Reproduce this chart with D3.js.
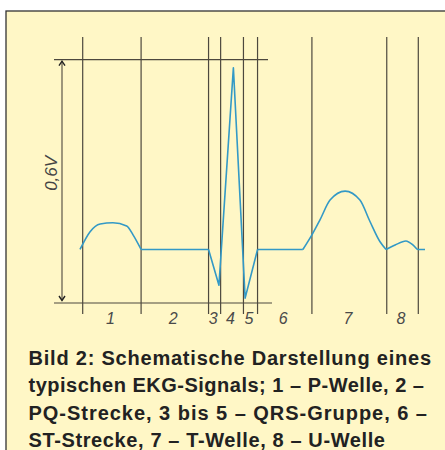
<!DOCTYPE html>
<html><head><meta charset="utf-8">
<script src="https://cdn.jsdelivr.net/npm/d3@7"></script>
<style>
html,body{margin:0;padding:0;background:#fff;}
svg{display:block;}
</style></head>
<body>
<svg id="c" width="445" height="450"></svg>
<script>
// ---- data ----
// segment boundaries (time units)
const boundaries = [0, 17.4, 37.5, 41.1, 47.9, 52.1, 68.3, 90.6, 100];
const segmentLabels = ["1","2","3","4","5","6","7","8"];
// amplitude reference (V)
const refLevels = [0, 0.6];
const ampLabel = "0,6V";
// signal pieces [time, volt]
const pWave = [[-0.8,0.132],[2.2,0.176],[5.2,0.195],[9.0,0.198],[13.1,0.190],[15.0,0.168],[17.4,0.132]];
const pqSegment = [[17.4,0.132],[37.5,0.132]];
const qrsComplex = [[37.5,0.132],[40.6,0.044],[44.9,0.580],[48.4,0.012],[52.1,0.132]];
const stSegment = [[52.1,0.132],[65.6,0.132]];
const tWave = [[65.6,0.132],[68.3,0.168],[70.7,0.205],[73.7,0.254],[78.2,0.276],[82.6,0.254],[85.6,0.201],[88.6,0.151],[90.4,0.132]];
const uWave = [[90.4,0.132],[93.1,0.143],[96.3,0.153],[98.7,0.141],[99.9,0.132],[102,0.132]];
const caption = [
  "Bild 2: Schematische Darstellung eines",
  "typischen EKG-Signals; 1 \u2013 P-Welle, 2 \u2013",
  "PQ-Strecke, 3 bis 5 \u2013 QRS-Gruppe, 6 \u2013",
  "ST-Strecke, 7 \u2013 T-Welle, 8 \u2013 U-Welle"
];

// ---- drawing ----
const svg = d3.select("#c");
const bg = "#FFF7C6";
const gridCol = "#4d483e";
const sigCol = "#3399c6";

// frame
svg.append("rect").attr("x",6).attr("y",11).attr("width",450).attr("height",450)
  .attr("fill",bg).attr("stroke","#333").attr("stroke-width",1.3);

const x = d3.scaleLinear().domain([0,100]).range([82.7,418.3]);
const y = d3.scaleLinear().domain([0,0.6]).range([303,59.7]);

// vertical boundary lines
svg.append("g").selectAll("line").data(boundaries).join("line")
  .attr("x1",d=>x(d)).attr("x2",d=>x(d)).attr("y1",37).attr("y2",314)
  .attr("stroke",gridCol).attr("stroke-width",1.2);

// reference horizontals
svg.append("line").attr("x1",54).attr("x2",268).attr("y1",y(refLevels[1])).attr("y2",y(refLevels[1]))
  .attr("stroke",gridCol).attr("stroke-width",1.2);
svg.append("line").attr("x1",54).attr("x2",272).attr("y1",y(refLevels[0])).attr("y2",y(refLevels[0]))
  .attr("stroke",gridCol).attr("stroke-width",1.2);

// double arrow
const ax = 62;
svg.append("line").attr("x1",ax).attr("x2",ax).attr("y1",y(0.6)+1.5).attr("y2",y(0)-2.5)
  .attr("stroke",gridCol).attr("stroke-width",1.1);
svg.append("path").attr("d",`M${ax-3},${y(0.6)+6}L${ax},${y(0.6)+1.5}L${ax+3},${y(0.6)+6}`)
  .attr("fill","none").attr("stroke","#222").attr("stroke-width",1.4);
svg.append("path").attr("d",`M${ax-3},${y(0)-7}L${ax},${y(0)-2.5}L${ax+3},${y(0)-7}`)
  .attr("fill","none").attr("stroke","#222").attr("stroke-width",1.4);

// amplitude label
svg.append("text").attr("transform",`translate(57,${(y(0.6)+y(0))/2 - 8}) rotate(-90)`)
  .attr("text-anchor","middle").attr("font-family","Liberation Sans, Arial, sans-serif")
  .attr("font-style","italic").attr("font-size",17).attr("fill","#444").text(ampLabel);

// signal
const lineSmooth = d3.line().x(d=>x(d[0])).y(d=>y(d[1])).curve(d3.curveMonotoneX);
const lineSharp = d3.line().x(d=>x(d[0])).y(d=>y(d[1])).curve(d3.curveLinear);
const sig = svg.append("g").attr("fill","none").attr("stroke",sigCol).attr("stroke-width",1.6)
  .attr("stroke-linejoin","round");
[pWave,tWave,uWave].forEach(p=>sig.append("path").attr("d",lineSmooth(p)));
[pqSegment,qrsComplex,stSegment].forEach(p=>sig.append("path").attr("d",lineSharp(p)));

// segment labels
svg.append("g").selectAll("text").data(segmentLabels).join("text")
  .attr("x",(d,i)=>(x(boundaries[i])+x(boundaries[i+1]))/2 - 1.5)
  .attr("y",323.5)
  .attr("text-anchor","middle").attr("font-family","Liberation Sans, Arial, sans-serif")
  .attr("font-style","italic").attr("font-size",16).attr("fill","#4a4a4a").text(d=>d);

// caption (line widths fitted to the printed caption via per-line letter spacing)
const capLeft = 28.5;
const capLineRight = [431, 424, 427, 385];
const cap = svg.append("g").attr("font-family","Liberation Sans, Arial, sans-serif")
  .attr("font-weight","bold").attr("font-size",20).attr("fill","#222");
cap.selectAll("text").data(caption).join("text")
  .attr("x",capLeft).attr("y",(d,i)=>364.5+i*27.6)
  .text(d=>d)
  .each(function(d,i){
    const bb = this.getBBox();
    const ls = (capLineRight[i] - capLeft - bb.width) / (d.length - 1);
    this.setAttribute("letter-spacing", ls.toFixed(3));
  });
</script>
</body></html>
